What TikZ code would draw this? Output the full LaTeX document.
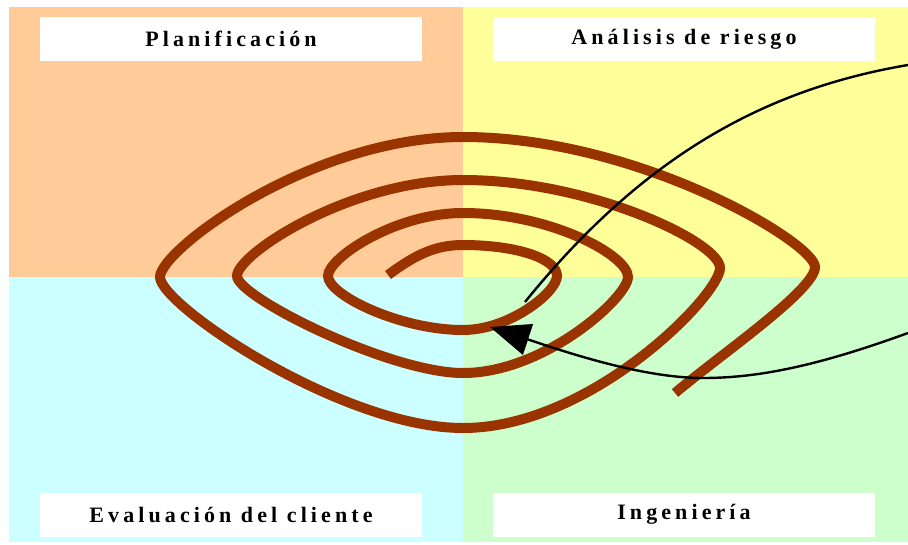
\documentclass[tikz,border=0pt]{standalone}
\usepackage{fontspec}
\setmainfont{Liberation Serif}
\newfontfamily\spacedfont[LetterSpace=18.6]{Liberation Serif}
\usetikzlibrary{arrows.meta}

\definecolor{planorange}{HTML}{FFCC99}
\definecolor{riskyellow}{HTML}{FFFF99}
\definecolor{clientcyan}{HTML}{CCFFFF}
\definecolor{enggreen}{HTML}{CCFFCC}
\definecolor{spiralbrown}{HTML}{993300}

\begin{document}
\begin{tikzpicture}[x=1pt,y=-1pt,
    quadlabel/.style={fill=white,minimum width=382pt,minimum height=44pt,inner sep=0pt,
        font=\spacedfont\bfseries\fontsize{22}{26}\selectfont},
    spiral/.style={draw=spiralbrown,line width=10pt},
    flow/.style={draw=black,line width=2.4pt}]
    \useasboundingbox (0,0) rectangle (908,544);

    \fill[planorange] (9,7) rectangle (463,277);
    \fill[riskyellow] (463,7) rectangle (908,277);
    \fill[clientcyan] (9,277) rectangle (463,542);
    \fill[enggreen] (463,277) rectangle (908,542);

    \node[quadlabel] (plan) at (231,39) {Planificación};
    \node[quadlabel] (riesgo) at (684,39) {Análisis de riesgo};
    \node[quadlabel] (cliente) at (231,514.5) {Evaluación del cliente};
    \node[quadlabel] (ing) at (684,514.5) {Ingeniería};

    \draw[spiral] (388,275)
        .. controls (415,255) and (435,245) .. (463,245)
        .. controls (515,245) and (557,258) .. (557,276)
        .. controls (557,292) and (510,330) .. (463,330)
        .. controls (400,330) and (328,295) .. (328,276)
        .. controls (328,258) and (395,213) .. (463,213)
        .. controls (550,213) and (628,255) .. (628,277)
        .. controls (628,297) and (545,373) .. (463,373)
        .. controls (390,373) and (237,297) .. (237,276)
        .. controls (237,254) and (350,180) .. (463,180)
        .. controls (590,180) and (720,242) .. (720,268)
        .. controls (720,295) and (591,428) .. (463,428)
        .. controls (342,428) and (160,305) .. (160,277)
        .. controls (160,250) and (311,137) .. (463,137)
        .. controls (639,137) and (815,243) .. (815,267)
        .. controls (815,290) and (720,355) .. (675,393);

    \coordinate (in1) at (908,65);
    \coordinate (end1) at (525,302);
    \coordinate (in2) at (908,333);
    \coordinate (low2) at (703,378);
    \coordinate (tip2) at (490,327);

    \draw[flow] (in1) .. controls (760,90) and (640,160) .. (end1);
    \draw[flow,-{Triangle[length=40pt,width=32pt]}] (in2)
        .. controls (820,365) and (760,378) .. (low2)
        .. controls (640,378) and (560,350) .. (tip2);
\end{tikzpicture}
\end{document}
